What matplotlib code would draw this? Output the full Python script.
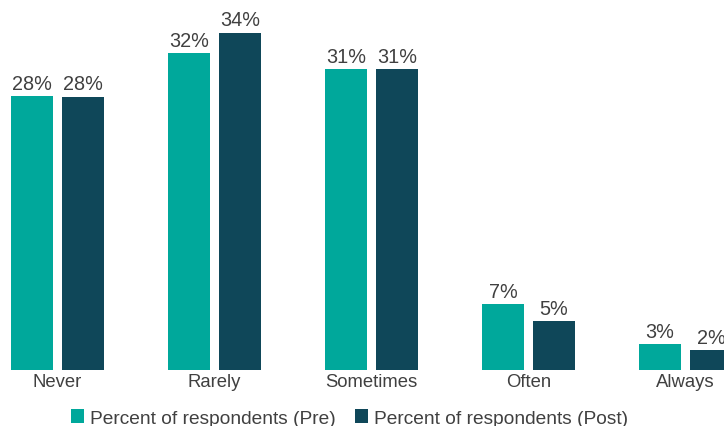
import matplotlib
matplotlib.use("Agg")
import matplotlib.pyplot as plt
import numpy as np

categories = ["Never", "Rarely", "Sometimes", "Often", "Always"]
pre_values = [27.96, 32.3, 30.7, 6.7, 2.65]
post_values = [27.9, 34.4, 30.7, 5.0, 2.04]
pre_labels = ["28%", "32%", "31%", "7%", "3%"]
post_labels = ["28%", "34%", "31%", "5%", "2%"]
series_names = ["Percent of respondents (Pre)", "Percent of respondents (Post)"]

teal = "#00A89B"
dark = "#0F4759"
text_col = "#404040"

plt.rcParams['font.family'] = ['Liberation Sans', 'DejaVu Sans']

fig = plt.figure(figsize=(7.24, 4.27), dpi=100)
ax = fig.add_axes([0, 56/427, 1, 371/427])

x = np.arange(len(categories))
w = 42/157
off = 25.5/157
b1 = ax.bar(x - off, pre_values, w, color=teal, label=series_names[0])
b2 = ax.bar(x + off, post_values, w, color=dark, label=series_names[1])

for bars, labs in ((b1, pre_labels), (b2, post_labels)):
    for r, t in zip(bars, labs):
        ax.annotate(t, (r.get_x() + r.get_width()/2, r.get_height()),
                    xytext=(0, 2.5), textcoords="offset points",
                    ha="center", va="bottom", fontsize=14.3, color=text_col)

ax.set_xlim(-57.5/157, (724-57.5)/157)
ax.set_ylim(0, 371/9.8)
ax.set_xticks(x)
ax.set_xticklabels(categories, fontsize=13.3, color=text_col)
ax.tick_params(axis='x', length=0, pad=2)
ax.set_yticks([])
for s in ax.spines.values():
    s.set_visible(False)

fig.legend(handles=[b1, b2], labels=series_names, loc="center",
           bbox_to_anchor=(349.5/724, 1 - 419/427), ncol=2, frameon=False,
           fontsize=13.8, handlelength=0.7, handleheight=0.7, handletextpad=0.3,
           columnspacing=1.0, labelcolor=text_col, borderaxespad=0, borderpad=0)

fig.savefig("out.png", dpi=100)
